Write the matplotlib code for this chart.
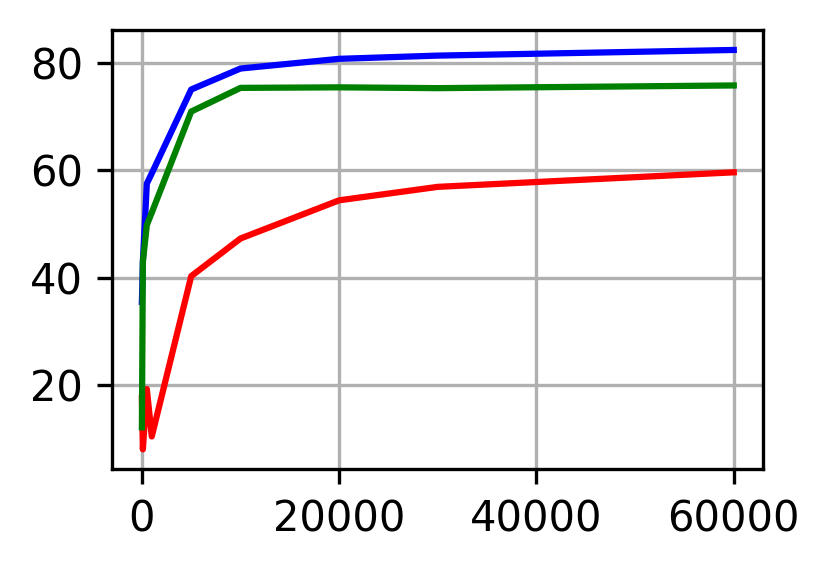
import matplotlib
matplotlib.use("Agg")
import matplotlib.pyplot as plt

# number of samples on the x axis
samples = [0, 100, 500, 1000, 5000, 10000, 20000, 30000, 60000]

# accuracy curves
acc_blue = [35.5, 43.0, 57.5, 59.4, 75.0, 78.9, 80.7, 81.3, 82.35]
acc_red = [17.6, 8.1, 19.3, 10.5, 40.3, 47.3, 54.4, 56.9, 59.6]
acc_green = [12.2, 43.0, 49.8, 52.1, 70.9, 75.3, 75.4, 75.25, 75.75]

fig = plt.figure(figsize=(830 / 300, 569 / 300), dpi=300)
ax = fig.add_axes([0.1353, 0.1752, 0.7844, 0.7721])

ax.plot(samples, acc_blue, color="blue")
ax.plot(samples, acc_red, color="red")
ax.plot(samples, acc_green, color="green")

ax.set_xticks([0, 20000, 40000, 60000])
ax.set_yticks([20, 40, 60, 80])
ax.grid(True)

fig.savefig("out.png", dpi=300)
